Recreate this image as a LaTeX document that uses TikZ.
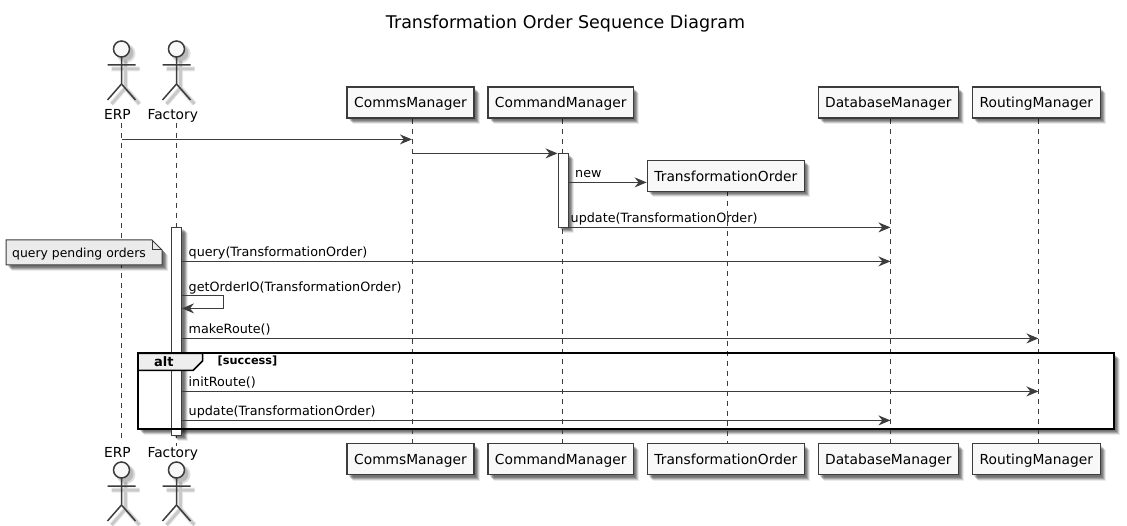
\documentclass[tikz,border=0pt]{standalone}
\usepackage{fontspec}
\setmainfont{DejaVu Sans}
\usetikzlibrary{arrows.meta,shadows,calc}
\definecolor{ink}{HTML}{3C3C3C}
\definecolor{paper}{HTML}{F8F8F8}
\definecolor{notefill}{HTML}{EBEBEB}
\definecolor{tabfill}{HTML}{EEEEEE}
\tikzset{
  softshadow/.style={
    general shadow={fill=black,opacity=.12,shadow xshift=2pt,shadow yshift=-2pt},
    general shadow={fill=black,opacity=.18,shadow xshift=3pt,shadow yshift=-3pt},
    general shadow={fill=black,opacity=.20,shadow xshift=4pt,shadow yshift=-4pt},
    general shadow={fill=black,opacity=.14,shadow xshift=5pt,shadow yshift=-5pt},
    general shadow={fill=black,opacity=.08,shadow xshift=6pt,shadow yshift=-6pt}},
  participantbox/.style={draw=ink,line width=1.4pt,fill=paper,softshadow,inner sep=0pt,
    minimum height=31pt,text height=13pt,text depth=2pt,font=\fontsize{13.8}{14}\selectfont,text=black},
  actorlabel/.style={anchor=base,inner sep=0pt,font=\fontsize{13.8}{14}\selectfont},
  lifeline/.style={draw=ink,line width=1pt,dash pattern=on 5pt off 5pt},
  msg/.style={draw=ink,line width=1pt,-{Stealth[length=12pt,width=10pt,inset=4pt,color=ink]}},
  msgtext/.style={anchor=base west,inner sep=0pt,font=\fontsize{12.75}{13}\selectfont},
  bar/.style={draw=ink,line width=1pt,fill=white,softshadow,inner sep=0pt,minimum width=10pt},
  stickman/.pic={
    \foreach \w/\o in {5/.08,3/.14}{
      \begin{scope}[shift={(4,4)},line width=\w pt,draw=black,opacity=\o]
        \draw (-14,16) -- (14,16) (0,8) -- (0,35) (-14,51) -- (0,35) -- (14,51);
      \end{scope}}
    \fill[black,opacity=.12] (4.5,4.5) circle (9.5);
    \fill[black,opacity=.16] (4,4) circle (8);
    \draw[ink,line width=1.5pt,line join=round] (-14,16) -- (14,16) (0,8) -- (0,35) (-14,51) -- (0,35) -- (14,51);
    \draw[ink,line width=1.5pt,fill=paper] (0,0) circle (8);
  }
}
\begin{document}
\begin{tikzpicture}[x=1pt,y=-1pt]
\useasboundingbox (0,0) rectangle (1127,526);
\fill[white] (0,0) rectangle (1127,526);

% title
\node[anchor=base,inner sep=0pt,font=\fontsize{17.5}{18}\selectfont] (title) at (565.5,28.5) {Transformation Order Sequence Diagram};

% alt frame background with shadow
\path[fill=white,softshadow] (138,353.5) rectangle (1114,428.5);

% lifeline ends
\coordinate (erpA) at (121.5,123);   \coordinate (erpB) at (121.5,443);
\coordinate (facA) at (176.5,123);   \coordinate (facB) at (176.5,446);
\coordinate (comA) at (412.4,119);   \coordinate (comB) at (412.4,444);
\coordinate (cmdA) at (562.4,119);   \coordinate (cmdB) at (562.4,444);
\coordinate (traA) at (727.4,191);   \coordinate (traB) at (727.4,444);
\coordinate (dbA)  at (890.4,119);   \coordinate (dbB)  at (890.4,444);
\coordinate (rouA) at (1038.4,119);  \coordinate (rouB) at (1038.4,444);

\draw[lifeline] (erpA) -- (erpB);
\draw[lifeline] (facA) -- (facB);
\draw[lifeline] (comA) -- (comB);
\draw[lifeline] (cmdA) -- (cmdB);
\draw[lifeline] (traA) -- (traB);
\draw[lifeline] (dbA) -- (dbB);
\draw[lifeline] (rouA) -- (rouB);

% actors
\pic at (121.5,49) {stickman};
\pic at (176.5,49) {stickman};
\pic at (121.5,470) {stickman};
\pic at (176.5,470) {stickman};
\node[actorlabel] (erpT) at (117.5,120) {ERP};
\node[actorlabel] (facT) at (172.8,120) {Factory};
\node[actorlabel] (erpU) at (117.5,457) {ERP};
\node[actorlabel] (facU) at (172.8,457) {Factory};

% participants
\node[participantbox,minimum width=127pt] (comT) at (410.5,102.5) {CommsManager};
\node[participantbox,minimum width=145.5pt] (cmdT) at (560.7,102.5) {CommandManager};
\node[participantbox,minimum width=157pt] (traT) at (725.8,176) {TransformationOrder};
\node[participantbox,minimum width=140pt] (dbT) at (888.3,102.5) {DatabaseManager};
\node[participantbox,minimum width=128pt] (rouT) at (1036.3,102.5) {RoutingManager};
\node[participantbox,minimum width=127pt] (comU) at (410.5,459) {CommsManager};
\node[participantbox,minimum width=145.5pt] (cmdU) at (560.7,459) {CommandManager};
\node[participantbox,minimum width=157pt] (traU) at (725.8,459) {TransformationOrder};
\node[participantbox,minimum width=140pt] (dbU) at (888.3,459) {DatabaseManager};
\node[participantbox,minimum width=128pt] (rouU) at (1036.3,459) {RoutingManager};

% activations
\node[bar,minimum height=74pt] (cmdBar) at (563,190.4) {};
\node[bar,minimum height=208pt] (facBar) at (176.5,331.4) {};

% message levels
\coordinate (y1) at (0,139.4);
\coordinate (y2) at (0,153.4);
\coordinate (y3) at (0,182.4);
\coordinate (y4) at (0,227.4);
\coordinate (y5) at (0,261.4);
\coordinate (y6a) at (0,295.9);
\coordinate (y6b) at (0,308.4);
\coordinate (y7) at (0,338.4);
\coordinate (y8) at (0,391.4);
\coordinate (y9) at (0,420.4);

\draw[msg] (erpA |- y1) -- ($(comA |- y1)+(-.5,0)$);
\draw[msg] (comA |- y2) -- (cmdBar.west |- y2);
\draw[msg] (cmdBar.east |- y3) -- (traT.west |- y3);
\draw[msg] (cmdBar.east |- y4) -- (dbA |- y4);
\draw[msg] (facBar.east |- y5) -- (dbA |- y5);
\coordinate (selfR) at (223.3,0);
\draw[msg] (facBar.east |- y6a) -- (selfR |- y6a) -- (selfR |- y6b) -- (facBar.east |- y6b);
\draw[msg] (facBar.east |- y7) -- (rouA |- y7);
\draw[msg] (facBar.east |- y8) -- (rouA |- y8);
\draw[msg] (facBar.east |- y9) -- (dbA |- y9);

\node[msgtext] (tNew) at (575,177.5) {new};
\node[msgtext] (tUp1) at (570.5,223) {update(TransformationOrder)};
\node[msgtext] (tQ) at (188.5,257) {query(TransformationOrder)};
\node[msgtext] (tGet) at (188.5,291.5) {getOrderIO(TransformationOrder)};
\node[msgtext] (tMk) at (188.5,333.5) {makeRoute()};
\node[msgtext] (tIn) at (188.5,386.5) {initRoute()};
\node[msgtext] (tUp2) at (188.5,415.5) {update(TransformationOrder)};

% note
\path[fill=notefill,draw=ink,line width=1pt,softshadow] (6,240) -- (152,240) -- (162,250) -- (162,265) -- (6,265) -- cycle;
\draw[ink,line width=1pt] (152,240) -- (152,250) -- (162,250);
\node[msgtext,font=\fontsize{12.4}{13}\selectfont] (noteText) at (12,258) {query pending orders};

% alt frame
\draw[black,line width=1.5pt,fill=tabfill] (138,353.5) -- (202.5,353.5) -- (202.5,361) -- (193,370.5) -- (138,370.5) -- cycle;
\draw[black,line width=2pt] (138,353.5) rectangle (1114,428.5);
\node[anchor=base west,inner sep=0pt,font=\bfseries\fontsize{13}{13}\selectfont] (altT) at (154,366.5) {alt};
\node[anchor=base west,inner sep=0pt,font=\bfseries\fontsize{11.3}{11}\selectfont] (altG) at (217.5,365) {[success]};
\end{tikzpicture}
\end{document}
